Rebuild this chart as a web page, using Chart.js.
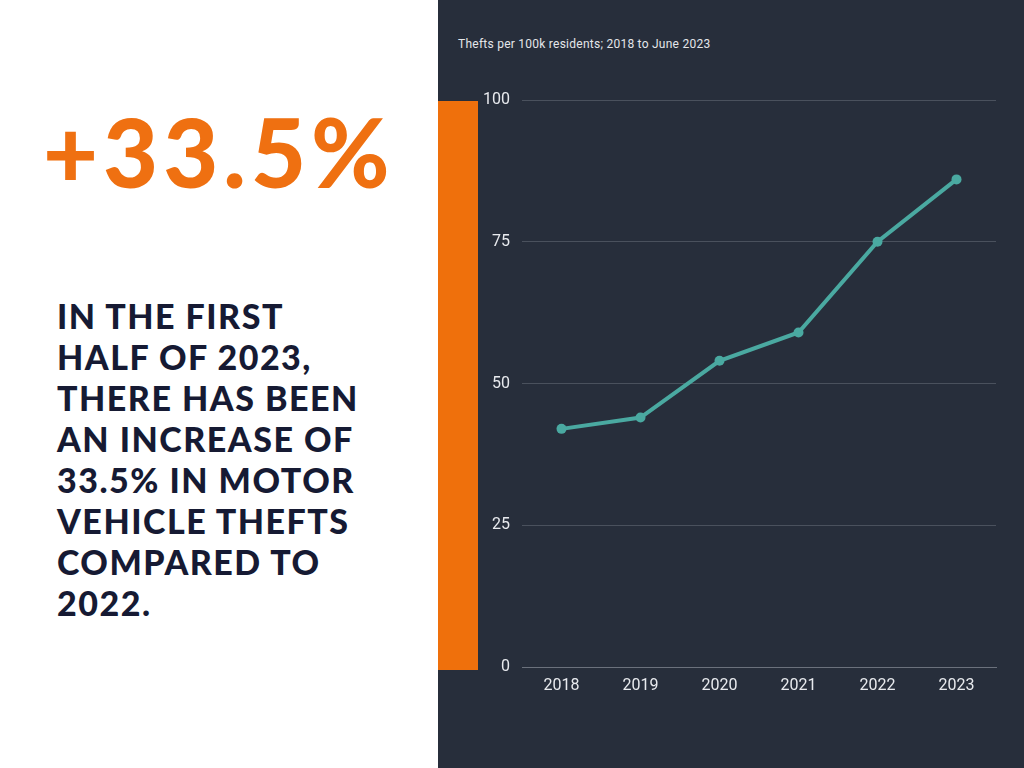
<!DOCTYPE html>
<html>
<head>
<meta charset="utf-8">
<script src="https://cdn.jsdelivr.net/npm/chart.js@4.4.0/dist/chart.umd.min.js"></script>
<style>
  html, body { margin:0; padding:0; width:1024px; height:768px; overflow:hidden; background:#ffffff; }
  #left { position:absolute; left:0; top:0; width:438px; height:768px; background:#ffffff; }
  #big { position:absolute; left:43px; top:94px; font-family:"Lato", sans-serif; font-weight:900; font-size:95px; color:#ef7011; letter-spacing:5px; }
  #blurb { position:absolute; left:57px; top:295px; width:380px; font-family:"Lato", sans-serif; font-weight:900; font-size:34px; line-height:41px; letter-spacing:1.5px; color:#161a33; text-transform:uppercase; white-space:nowrap; }
  #panel { position:absolute; left:438px; top:0; width:586px; height:768px; background:#272e3b; }
  #bar { position:absolute; left:438px; top:101px; width:40px; height:569px; background:#ef700c; }
  #sub { position:absolute; left:458px; top:37px; font-family:Roboto, sans-serif; font-size:12px; letter-spacing:0.25px; color:#e4e6ea; }
  #wrap { position:absolute; left:438px; top:0; width:586px; height:768px; }
</style>
</head>
<body>
<div id="left">
  <div id="big">+33.5%</div>
  <div id="blurb">In the first<br>half of 2023,<br>there has been<br>an increase of<br>33.5% in motor<br>vehicle thefts<br>compared to<br>2022.</div>
</div>
<div id="panel"></div>
<div id="bar"></div>
<div id="sub">Thefts per 100k residents; 2018 to June 2023</div>
<div id="wrap"><canvas id="theftGraph" width="586" height="768"></canvas></div>
<script>
// robos de vehiculos por cada 100k residentes
var years = ['2018', '2019', '2020', '2021', '2022', '2023'];
var thefts = [42, 44, 54, 59, 75, 86];
var yTicks = [0, 25, 50, 75, 100];

var ctx = document.getElementById('theftGraph').getContext('2d');
var myChart = new Chart(ctx, {
  type: 'line',
  data: {
    labels: years,
    datasets: [{
      label: 'Thefts per 100k residents',
      data: thefts,
      borderColor: '#4aa9a1',
      backgroundColor: '#4aa9a1',
      borderWidth: 4,
      tension: 0,
      pointRadius: 5,
      pointBackgroundColor: '#4aa9a1',
      pointBorderWidth: 0
    }]
  },
  options: {
    responsive: false,
    animation: false,
    layout: { padding: { left: 0, right: 28, top: 100, bottom: 0 } },
    plugins: { legend: { display: false }, tooltip: { enabled: false } },
    scales: {
      x: {
        offset: true,
        grid: { display: false, drawTicks: false },
        border: { display: true, color: '#6b717c', width: 1 },
        ticks: { color: '#e8eaee', font: { family: 'Roboto', size: 16 }, padding: 9 },
        afterFit: function (scale) { scale.height = 101; }
      },
      y: {
        min: 0,
        max: 100,
        afterBuildTicks: function (scale) {
          scale.ticks = yTicks.map(function (v) { return { value: v }; });
        },
        grid: { color: '#4a515d', drawTicks: false, lineWidth: 1 },
        border: { display: false },
        ticks: { color: '#e8eaee', font: { family: 'Roboto', size: 16 }, padding: 12 },
        afterFit: function (scale) { scale.width = 84; }
      }
    }
  }
});
</script>
</body>
</html>
